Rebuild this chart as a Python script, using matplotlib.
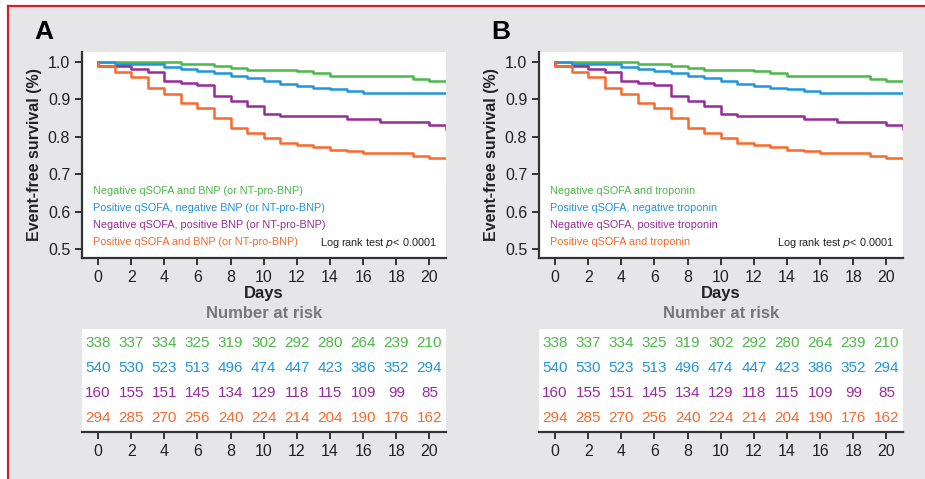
import matplotlib
matplotlib.use("Agg")
import matplotlib.pyplot as plt
from matplotlib.lines import Line2D

plt.rcParams['font.family'] = ['Liberation Sans', 'DejaVu Sans']

# --- DATA ---
days = list(range(0, 21))
risk_days = [0, 2, 4, 6, 8, 10, 12, 14, 16, 18, 20]

surv_green = [1.0, 1.0, 1.0, 1.0, 1.0, 0.996, 0.996, 0.990, 0.985, 0.980, 0.980,
              0.980, 0.976, 0.970, 0.962, 0.962, 0.962, 0.962, 0.962, 0.954, 0.949]
surv_blue = [1.0, 0.994, 0.994, 0.994, 0.987, 0.981, 0.976, 0.970, 0.964, 0.957, 0.950,
             0.942, 0.937, 0.931, 0.927, 0.922, 0.918, 0.918, 0.918, 0.918, 0.918]
surv_purple = [0.989, 0.989, 0.981, 0.974, 0.949, 0.943, 0.938, 0.910, 0.897, 0.883, 0.862,
               0.856, 0.856, 0.856, 0.856, 0.849, 0.849, 0.839, 0.839, 0.839, 0.831]
surv_orange = [0.990, 0.974, 0.961, 0.932, 0.914, 0.891, 0.877, 0.851, 0.825, 0.810, 0.796,
               0.783, 0.777, 0.773, 0.766, 0.762, 0.758, 0.758, 0.758, 0.749, 0.744]
end_purple = 0.822

risk_green = [338, 337, 334, 325, 319, 302, 292, 280, 264, 239, 210]
risk_blue = [540, 530, 523, 513, 496, 474, 447, 423, 386, 352, 294]
risk_purple = [160, 155, 151, 145, 134, 129, 118, 115, 109, 99, 85]
risk_orange = [294, 285, 270, 256, 240, 224, 214, 204, 190, 176, 162]

labels_a = ["Negative qSOFA and BNP (or NT-pro-BNP)",
            "Positive qSOFA, negative BNP (or NT-pro-BNP)",
            "Negative qSOFA, positive BNP (or NT-pro-BNP)",
            "Positive qSOFA and BNP (or NT-pro-BNP)"]
labels_b = ["Negative qSOFA and troponin",
            "Positive qSOFA, negative troponin",
            "Negative qSOFA, positive troponin",
            "Positive qSOFA and troponin"]

# --- STYLE ---
colors = ['#4cb848', '#1f95dd', '#962c99', '#f7692c']
bg = '#e6e6e8'
axis_col = '#333333'
W, H = 925, 479

fig = plt.figure(figsize=(9.25, 4.79), dpi=100)
fig.patch.set_facecolor(bg)

# red frame (top and left)
fig.add_artist(Line2D([8 / W, 1], [1 - 6 / H, 1 - 6 / H], color='#d0202a', lw=1.6))
fig.add_artist(Line2D([8 / W, 8 / W], [0, 1 - 6 / H], color='#d0202a', lw=1.6))
# white outside the frame
fig.add_artist(plt.Rectangle((0, 1 - 5 / H), 1, 5 / H, color='white', lw=0))
fig.add_artist(plt.Rectangle((0, 0), 7 / W, 1, color='white', lw=0))


def style_axis(ax):
    ax.set_facecolor('white')
    for s in ['top', 'right']:
        ax.spines[s].set_visible(False)
    for s in ['left', 'bottom']:
        ax.spines[s].set_color(axis_col)
        ax.spines[s].set_linewidth(1.6)
    ax.tick_params(colors=axis_col, width=1.4, length=5, labelsize=11.5,
                   labelcolor='#222222')


def km_panel(left, letter, labels):
    ax = fig.add_axes([left / W, 1 - 258 / H, 364 / W, 206 / H])
    style_axis(ax)
    series = [surv_green, surv_blue, surv_purple, surv_orange]
    for i, s in enumerate(series):
        xs = [0] + days + [21]
        last = end_purple if i == 2 else s[-1]
        ys = [1.0] + s + [last]
        ax.step(xs, ys, where='post', color=colors[i], lw=1.8)
    ax.set_xlim(-0.97, 21.0)
    ax.set_ylim(0.476, 1.027)
    ax.set_xticks(range(0, 21, 2))
    ax.set_yticks([0.5, 0.6, 0.7, 0.8, 0.9, 1.0])
    ax.set_yticklabels(['0.5', '0.6', '0.7', '0.8', '0.9', '1.0'])
    ax.set_xlabel('Days', fontsize=12, fontweight='bold', labelpad=1, color='#222222')
    ax.set_ylabel('Event-free survival (%)', fontsize=11.5, fontweight='bold',
                  labelpad=4, color='#222222')
    for i, lab in enumerate(labels):
        ax.text(0.03, 0.325 - i * 0.083, lab, transform=ax.transAxes,
                color=colors[i], fontsize=7.8, va='center', ha='left')
    ax.text(0.975, 0.075, 'Log rank test $\\it{p}$< 0.0001', transform=ax.transAxes,
            color='#222222', fontsize=7.8, va='center', ha='right')
    fig.text((left - 48) / W, 1 - 32 / H, letter, fontsize=19, fontweight='bold',
             va='center', ha='left')

    # number at risk table
    tab = fig.add_axes([left / W, 1 - 432 / H, 364 / W, 103 / H])
    style_axis(tab)
    tab.spines['left'].set_visible(False)
    tab.set_xlim(-0.97, 21.0)
    tab.set_ylim(0, 4.1)
    tab.set_yticks([])
    tab.set_xticks(risk_days)
    risks = [risk_green, risk_blue, risk_purple, risk_orange]
    for i, r in enumerate(risks):
        for d, v in zip(risk_days, r):
            tab.text(d, 3.55 - i, str(v), color=colors[i], fontsize=11,
                     ha='center', va='center')
    fig.text((left + 182) / W, 1 - 313 / H, 'Number at risk', color='#777777',
             fontsize=12, fontweight='bold', ha='center', va='center')


km_panel(82, 'A', labels_a)
km_panel(539, 'B', labels_b)

fig.savefig('out.png', dpi=100, facecolor=fig.get_facecolor())
